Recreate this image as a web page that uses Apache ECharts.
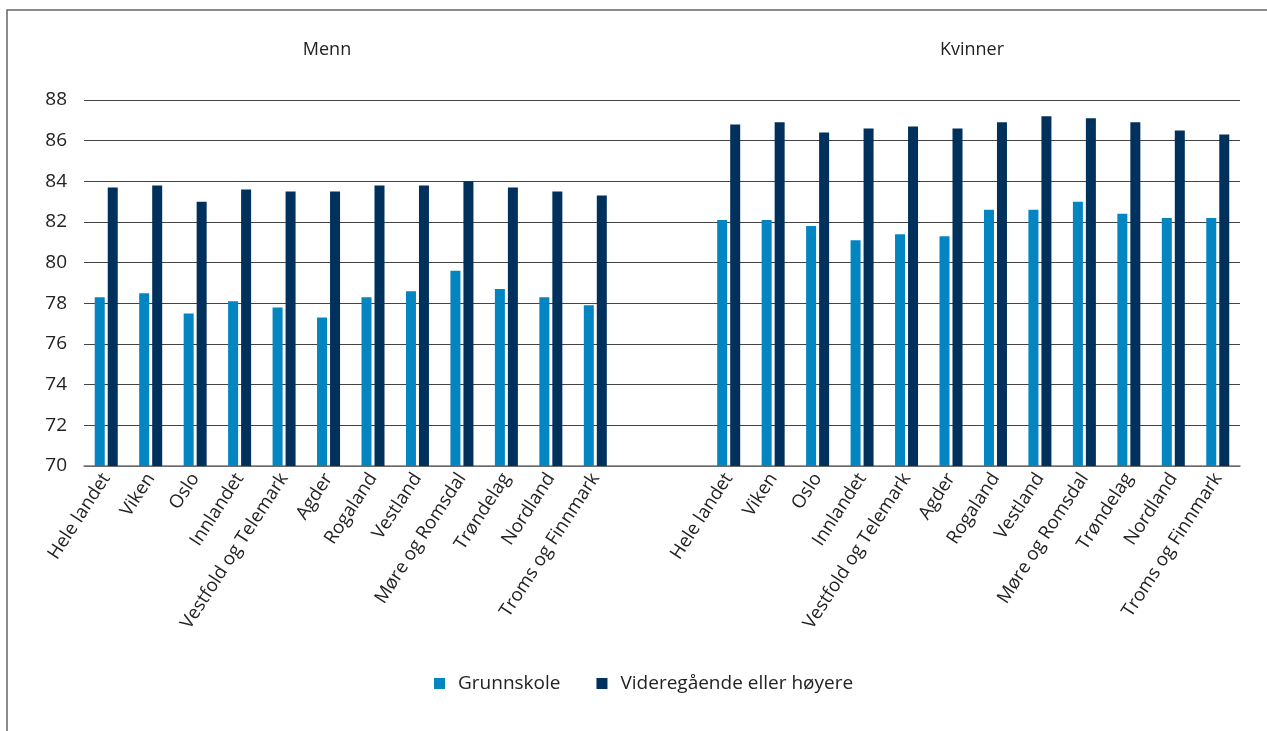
<html>
<head>
    <meta charset="utf-8">
    <title>Chart</title>
    <script src="https://cdn.jsdelivr.net/npm/echarts@6/dist/echarts.min.js"></script>
    <style>
        html, body { margin: 0; padding: 0; width: 100%; height: 100%; background: #fff; }
        #main { width: 1267px; height: 731px; }
    </style>
</head>
<body>
    <div id="main"></div>
    <script type="text/javascript">
        // fylker, samme rekkefølge for menn og kvinner
        var regions = ['Hele landet', 'Viken', 'Oslo', 'Innlandet', 'Vestfold og Telemark', 'Agder',
                       'Rogaland', 'Vestland', 'Møre og Romsdal', 'Trøndelag', 'Nordland', 'Troms og Finnmark'];
        var mennGrunnskole = [78.3, 78.5, 77.5, 78.1, 77.8, 77.3, 78.3, 78.6, 79.6, 78.7, 78.3, 77.9];
        var mennVgs        = [83.7, 83.8, 83.0, 83.6, 83.5, 83.5, 83.8, 83.8, 84.0, 83.7, 83.5, 83.3];
        var kvinnerGrunnskole = [82.1, 82.1, 81.8, 81.1, 81.4, 81.3, 82.6, 82.6, 83.0, 82.4, 82.2, 82.2];
        var kvinnerVgs        = [86.8, 86.9, 86.4, 86.6, 86.7, 86.6, 86.9, 87.2, 87.1, 86.9, 86.5, 86.3];
        var groupTitles = ['Menn', 'Kvinner'];
        var seriesNames = ['Grunnskole', 'Videregående eller høyere'];
        var colors = ['#0285c0', '#00305c'];

        // to tomme kategorier mellom gruppene
        var gap = ['', ' '];
        var categories = regions.concat(gap, regions.map(function (r) { return r + '\u200b'; }));
        var grunnData = mennGrunnskole.concat([null, null], kvinnerGrunnskole);
        var vgsData = mennVgs.concat([null, null], kvinnerVgs);

        var font = '"Open Sans", "Noto Sans", sans-serif';
        var myChart = echarts.init(document.getElementById('main'));

        var option = {
            animation: false,
            color: colors,
            textStyle: { fontFamily: font },
            title: [
                { text: groupTitles[0], left: 322, top: 36, textAlign: 'center',
                  textStyle: { fontFamily: font, fontSize: 18, fontWeight: 'normal', color: '#222' } },
                { text: groupTitles[1], left: 967, top: 36, textAlign: 'center',
                  textStyle: { fontFamily: font, fontSize: 18, fontWeight: 'normal', color: '#222' } }
            ],
            legend: {
                bottom: 33,
                left: 429,
                itemWidth: 11,
                itemHeight: 11,
                itemGap: 36,
                icon: 'rect',
                textStyle: { fontFamily: font, fontSize: 19, color: '#222', padding: [0, 0, 0, 8] },
                data: seriesNames
            },
            grid: { left: 84, right: 27, top: 100, bottom: 265 },
            xAxis: {
                type: 'category',
                data: categories,
                axisTick: { show: false },
                axisLine: { lineStyle: { color: '#777', width: 1.5 } },
                axisLabel: {
                    interval: 0,
                    rotate: 57,
                    margin: 9,
                    fontFamily: font,
                    fontSize: 18.5,
                    color: '#222',
                    formatter: function (v) { return v.replace('\u200b', ''); }
                }
            },
            yAxis: {
                type: 'value',
                min: 70,
                max: 88,
                interval: 2,
                axisLine: { show: false },
                axisTick: { show: false },
                axisLabel: { margin: 17, fontFamily: font, fontSize: 19, color: '#222' },
                splitLine: { lineStyle: { color: '#444', width: 1 } }
            },
            series: [
                {
                    name: seriesNames[0],
                    type: 'bar',
                    barWidth: 10,
                    barGap: '30%',
                    data: grunnData
                },
                {
                    name: seriesNames[1],
                    type: 'bar',
                    barWidth: 10,
                    data: vgsData
                }
            ],
            graphic: [
                {
                    type: 'rect',
                    shape: { x: 7, y: 10, width: 1300, height: 800 },
                    style: { fill: 'none', stroke: '#666', lineWidth: 1.5 },
                    silent: true
                }
            ]
        };
        myChart.setOption(option);
    </script>
</body>
</html>
